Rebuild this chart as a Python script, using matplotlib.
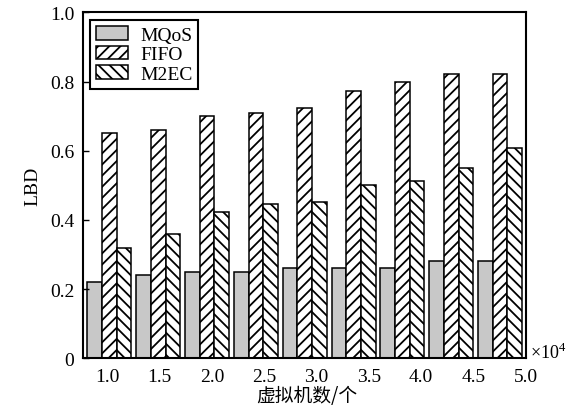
import numpy as np
import matplotlib
matplotlib.use('Agg')
import matplotlib.pyplot as plt

plt.rcParams['font.family'] = ['Liberation Serif', 'DejaVu Serif']
plt.rcParams['mathtext.fontset'] = 'custom'
plt.rcParams['mathtext.rm'] = 'Liberation Serif'
plt.rcParams['hatch.linewidth'] = 1.3

# data
vm_labels = ['1.0', '1.5', '2.0', '2.5', '3.0', '3.5', '4.0', '4.5', '5.0']
mqos = [0.22, 0.24, 0.25, 0.25, 0.26, 0.26, 0.26, 0.28, 0.28]
fifo = [0.65, 0.66, 0.70, 0.71, 0.725, 0.773, 0.80, 0.821, 0.821]
m2ec = [0.32, 0.36, 0.424, 0.446, 0.452, 0.50, 0.513, 0.551, 0.607]

fig = plt.figure(figsize=(5.74, 4.06), dpi=100)
ax = fig.add_axes([0.144, 0.115, 0.772, 0.852])

x = np.arange(len(vm_labels))
w = 0.30
ax.bar(x - w, mqos, w, color='#c8c8c8', edgecolor='black', linewidth=1.1, label='MQoS')
ax.bar(x, fifo, w, color='white', edgecolor='black', linewidth=1.1, hatch='///', label='FIFO')
ax.bar(x + w, m2ec, w, color='white', edgecolor='black', linewidth=1.1, hatch='\\\\\\', label='M2EC')

ax.set_xlim(-0.549, 8.527)
ax.set_ylim(0, 1.0)
ax.set_yticks(np.arange(0, 1.01, 0.2))
ax.set_yticklabels(['0', '0.2', '0.4', '0.6', '0.8', '1.0'])
ax.set_xticks(np.linspace(-0.04, 8.52, len(vm_labels)))
ax.set_xticklabels(vm_labels)
ax.tick_params(axis='y', direction='in', length=4, width=1, labelsize=14, pad=6)
ax.tick_params(axis='x', length=0, labelsize=14, pad=7)
for s in ax.spines.values():
    s.set_linewidth(1.5)

ax.set_ylabel('LBD', fontsize=14, labelpad=6)
ax.set_xlabel('虚拟机数/个', fontsize=13.5, family=['Noto Sans CJK SC'])
ax.xaxis.set_label_coords(0.505, -0.078)
ax.text(1.01, 0.0, r'$\times10^4$', transform=ax.transAxes, fontsize=13,
        ha='left', va='baseline')

leg = ax.legend(loc='upper left', fontsize=14, frameon=True, fancybox=False,
                edgecolor='black', framealpha=1, borderaxespad=0.4,
                handlelength=1.65, handleheight=0.7, handletextpad=0.6,
                labelspacing=0.1, borderpad=0.3)
leg.get_frame().set_linewidth(1.5)

fig.savefig('out.png', dpi=100)
